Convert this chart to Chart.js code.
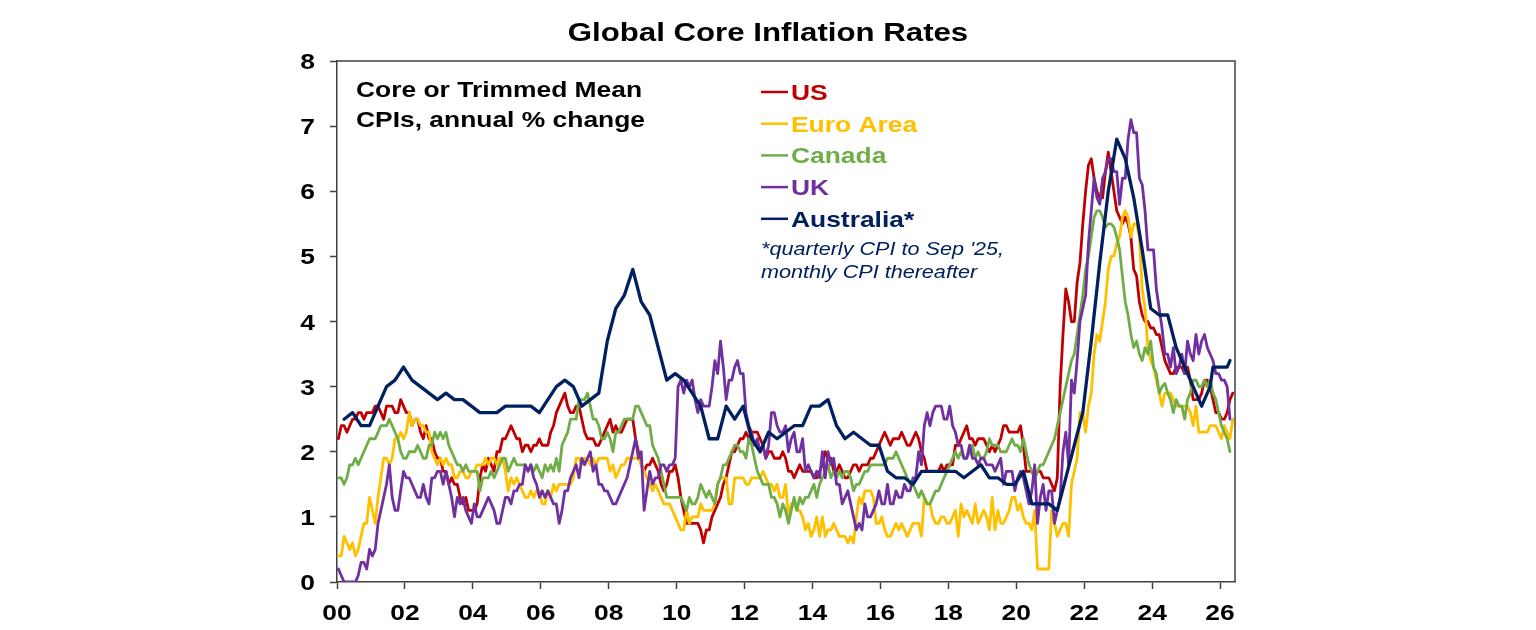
<!DOCTYPE html>
<html>
<head>
<meta charset="utf-8">
<title>Global Core Inflation Rates</title>
<script src="https://cdn.jsdelivr.net/npm/chart.js@4.4.1/dist/chart.umd.min.js"></script>
<style>
  html, body { margin: 0; padding: 0; background: #fff; }
  #wrap { width: 1536px; height: 630px; }
</style>
</head>
<body>
<div id="wrap"><canvas id="chart" width="1536" height="630"></canvas></div>
<script>
'use strict';

// ---- data (annual % change), monthly series start Jan 2000 ----
var xTickLabels = ['00', '02', '04', '06', '08', '10', '12', '14', '16', '18', '20', '22', '24', '26'];
var yTickLabels = ['0', '1', '2', '3', '4', '5', '6', '7', '8'];

var usCore = [
    2.2, 2.4, 2.4, 2.3, 2.4, 2.5, 2.5, 2.6, 2.6, 2.5, 2.6, 2.6,
    2.6, 2.7, 2.7, 2.6, 2.5, 2.7, 2.7, 2.7, 2.6, 2.6, 2.8, 2.7,
    2.6, 2.6, 2.4, 2.5, 2.5, 2.3, 2.2, 2.4, 2.2, 2.2, 2.0, 1.9,
    1.9, 1.7, 1.7, 1.5, 1.6, 1.5, 1.5, 1.3, 1.2, 1.3, 1.1, 1.1,
    1.1, 1.2, 1.6, 1.8, 1.7, 1.9, 1.8, 1.7, 2.0, 2.0, 2.2, 2.2,
    2.3, 2.4, 2.3, 2.2, 2.2, 2.0, 2.1, 2.1, 2.0, 2.1, 2.1, 2.2,
    2.1, 2.1, 2.1, 2.3, 2.4, 2.6, 2.7, 2.8, 2.9, 2.7, 2.6, 2.6,
    2.7, 2.7, 2.5, 2.3, 2.2, 2.2, 2.2, 2.1, 2.1, 2.2, 2.3, 2.4,
    2.5, 2.3, 2.4, 2.3, 2.3, 2.4, 2.5, 2.5, 2.5, 2.2, 2.0, 1.8,
    1.7, 1.8, 1.8, 1.9, 1.8, 1.7, 1.5, 1.4, 1.5, 1.7, 1.7, 1.8,
    1.6, 1.3, 1.1, 0.9, 0.9, 0.9, 0.9, 0.9, 0.8, 0.6, 0.8, 0.8,
    1.0, 1.1, 1.2, 1.3, 1.5, 1.6, 1.8, 2.0, 2.0, 2.1, 2.2, 2.2,
    2.3, 2.2, 2.3, 2.3, 2.3, 2.2, 2.1, 1.9, 2.0, 2.0, 1.9, 1.9,
    1.9, 2.0, 1.9, 1.7, 1.7, 1.6, 1.7, 1.8, 1.7, 1.7, 1.7, 1.7,
    1.6, 1.6, 1.7, 1.8, 2.0, 1.9, 1.9, 1.7, 1.7, 1.8, 1.7, 1.6,
    1.6, 1.7, 1.8, 1.8, 1.7, 1.8, 1.8, 1.8, 1.9, 1.9, 2.0, 2.1,
    2.2, 2.3, 2.2, 2.1, 2.2, 2.2, 2.2, 2.3, 2.2, 2.1, 2.1, 2.2,
    2.3, 2.2, 2.0, 1.9, 1.7, 1.7, 1.7, 1.7, 1.7, 1.8, 1.7, 1.8,
    1.8, 1.8, 2.1, 2.1, 2.2, 2.3, 2.4, 2.2, 2.2, 2.1, 2.2, 2.2,
    2.2, 2.1, 2.0, 2.1, 2.0, 2.1, 2.2, 2.4, 2.4, 2.3, 2.3, 2.3,
    2.3, 2.4, 2.1, 1.7, 1.7, 1.7, 1.6, 1.7, 1.7, 1.6, 1.6, 1.6,
    1.5, 1.4, 1.6, 3.0, 3.8, 4.5, 4.3, 4.0, 4.0, 4.6, 4.9, 5.5,
    6.0, 6.4, 6.5, 6.2, 6.0, 5.9, 5.9, 6.3, 6.6, 6.3, 6.0, 5.7,
    5.6, 5.5, 5.6, 5.5, 5.3, 4.8, 4.7, 4.3, 4.1, 4.0, 4.0, 3.9,
    3.9, 3.8, 3.8, 3.6, 3.4, 3.3, 3.2, 3.2, 3.3, 3.3, 3.3, 3.2,
    3.3, 3.1, 2.8, 2.8, 2.8, 2.9, 3.1, 3.1, 3.0, 2.8, 2.6, 2.6,
    2.5, 2.5, 2.6, 2.8, 2.9
];

var euroCore = [
    0.4, 0.4, 0.7, 0.6, 0.5, 0.6, 0.4, 0.5, 0.7, 0.9, 0.9, 1.3,
    1.1, 0.9, 1.3, 1.6, 1.9, 1.9, 1.8, 1.9, 2.2, 2.2, 2.3, 2.2,
    2.3, 2.6, 2.4, 2.5, 2.5, 2.4, 2.4, 2.3, 2.3, 2.0, 1.9, 1.8,
    1.9, 1.8, 1.9, 1.8, 1.8, 1.6, 1.6, 1.7, 1.7, 1.6, 1.6, 1.7,
    1.7, 1.8, 1.8, 1.8, 1.9, 1.8, 1.9, 1.9, 1.8, 1.9, 1.9, 1.7,
    1.4, 1.6, 1.5, 1.6, 1.5, 1.4, 1.3, 1.3, 1.4, 1.3, 1.4, 1.4,
    1.2, 1.2, 1.4, 1.3, 1.5, 1.4, 1.5, 1.5, 1.5, 1.5, 1.5, 1.6,
    1.9, 1.9, 1.8, 1.9, 1.9, 1.8, 1.9, 1.8, 1.9, 1.9, 1.9, 1.9,
    1.7, 1.8, 1.6, 1.7, 1.8, 1.8, 1.9, 1.9, 1.9, 1.9, 1.9, 1.8,
    1.7, 1.6, 1.5, 1.4, 1.5, 1.4, 1.3, 1.2, 1.2, 1.2, 1.1, 1.0,
    0.9, 0.8, 0.8, 1.1, 0.9, 1.0, 1.0, 1.0, 1.2, 1.1, 1.1, 1.1,
    1.1, 1.2, 1.5, 1.6, 1.6, 1.6, 1.2, 1.2, 1.6, 1.6, 1.6, 1.6,
    1.5, 1.5, 1.6, 1.6, 1.6, 1.6, 1.7, 1.6, 1.5, 1.5, 1.4, 1.5,
    1.3, 1.3, 1.5, 1.0, 1.2, 1.2, 1.1, 1.1, 1.0, 0.8, 0.9, 0.7,
    0.8, 1.0, 0.7, 1.0, 0.7, 0.8, 0.8, 0.9, 0.8, 0.7, 0.7, 0.7,
    0.6, 0.7, 0.6, 1.0, 1.3, 1.2, 1.4, 1.4, 1.4, 1.3, 0.9, 0.9,
    1.0, 0.8, 0.7, 0.7, 0.8, 0.9, 0.8, 0.9, 0.8, 0.7, 0.8, 0.9,
    0.9, 0.9, 0.7, 1.3, 1.2, 1.2, 1.0, 0.9, 0.9, 1.0, 1.0, 0.9,
    0.9, 1.0, 1.1, 0.7, 1.2, 1.0, 1.1, 1.0, 0.9, 1.2, 0.9, 1.0,
    1.1, 1.0, 0.8, 1.3, 0.8, 1.1, 0.9, 0.9, 1.0, 1.1, 1.3, 1.3,
    1.1, 1.2, 1.0, 0.9, 0.9, 0.8, 1.1, 0.2, 0.2, 0.2, 0.2, 0.2,
    1.1, 0.9, 0.7, 0.8, 0.9, 0.9, 0.7, 1.5, 1.7, 1.9, 2.6, 2.6,
    2.3, 2.7, 2.9, 3.5, 3.8, 3.7, 4.0, 4.3, 4.8, 5.0, 5.0, 5.2,
    5.3, 5.6, 5.7, 5.6, 5.3, 5.5, 5.5, 5.3, 4.5, 4.2, 3.6, 3.4,
    3.3, 3.1, 2.9, 2.7, 2.9, 2.9, 2.9, 2.8, 2.7, 2.7, 2.7, 2.7,
    2.7, 2.6, 2.4, 2.7, 2.3, 2.3, 2.3, 2.3, 2.4, 2.4, 2.4, 2.3,
    2.2, 2.4, 2.3, 2.2, 2.5
];

var canadaCore = [
    1.6, 1.6, 1.5, 1.6, 1.8, 1.8, 1.9, 1.8, 1.9, 2.0, 2.1, 2.2,
    2.2, 2.2, 2.3, 2.4, 2.4, 2.4, 2.5, 2.4, 2.3, 2.2, 2.0, 1.9,
    1.9, 2.0, 2.0, 2.0, 2.1, 2.0, 1.9, 1.9, 2.1, 2.1, 2.3, 2.2,
    2.3, 2.2, 2.3, 2.1, 2.0, 1.9, 1.8, 1.8, 1.7, 1.8, 1.7, 1.7,
    1.7, 1.7, 1.4, 1.6, 1.6, 1.6, 1.7, 1.6, 1.7, 1.8, 1.9, 1.9,
    1.7, 1.8, 1.9, 1.8, 1.8, 1.8, 1.8, 1.7, 1.8, 1.7, 1.8, 1.7,
    1.6, 1.8, 1.7, 1.8, 1.7, 1.9, 1.7, 2.1, 2.2, 2.3, 2.5, 2.5,
    2.5, 2.8, 2.8, 2.8, 2.9, 2.7, 2.5, 2.5, 2.4, 2.2, 2.2, 2.3,
    2.2, 2.0, 2.3, 2.3, 2.4, 2.5, 2.5, 2.5, 2.5, 2.7, 2.7, 2.6,
    2.5, 2.4, 2.4, 2.1, 2.0, 1.9, 1.7, 1.5, 1.3, 1.3, 1.3, 1.3,
    1.3, 1.3, 1.2, 1.1, 1.3, 1.2, 1.2, 1.3, 1.5, 1.4, 1.3, 1.4,
    1.3, 1.2, 1.5, 1.6, 1.8, 1.8, 1.9, 2.0, 2.1, 2.1, 2.0, 2.0,
    1.9, 2.2, 2.1, 1.9, 1.7, 1.6, 1.5, 1.5, 1.5, 1.3, 1.3, 1.2,
    1.0, 1.2, 1.1, 0.9, 1.1, 1.3, 1.1, 1.3, 1.2, 1.3, 1.3, 1.4,
    1.5, 1.3, 1.5, 1.6, 1.7, 1.8, 1.6, 1.7, 1.6, 1.7, 1.6, 1.7,
    1.7, 1.6, 1.4, 1.5, 1.5, 1.6, 1.7, 1.7, 1.8, 1.8, 1.8, 1.8,
    1.8, 1.8, 1.9, 1.9, 1.9, 2.0, 1.9, 1.8, 1.7, 1.6, 1.5, 1.5,
    1.4, 1.3, 1.4, 1.3, 1.2, 1.2, 1.3, 1.4, 1.4, 1.5, 1.6, 1.7,
    1.8, 1.9, 2.0, 1.9, 2.0, 1.9, 1.9, 2.0, 2.1, 1.9, 2.0, 1.9,
    1.9, 2.0, 2.2, 2.1, 2.1, 2.1, 2.0, 2.0, 2.0, 2.1, 2.2, 2.1,
    2.1, 2.0, 2.2, 2.0, 1.8, 1.7, 1.6, 1.7, 1.8, 1.8, 1.9, 2.0,
    2.1, 2.2, 2.4, 2.6, 2.8, 3.0, 3.2, 3.4, 3.5, 3.8, 4.1, 4.4,
    4.8, 5.0, 5.3, 5.6, 5.7, 5.7, 5.6, 5.45, 5.5, 5.5, 5.45, 5.3,
    5.1, 4.7, 4.3, 4.1, 3.8, 3.6, 3.7, 3.5, 3.4, 3.6, 3.5, 3.7,
    3.3, 3.2, 2.9, 3.0, 3.05, 2.9, 2.8, 2.6, 2.8, 2.7, 2.7, 2.5,
    2.8, 2.9, 3.1, 3.1, 3.0, 3.0, 3.1, 3.0, 3.1, 2.9, 2.8, 2.6,
    2.4, 2.3, 2.2, 2.0
];

var ukCore = [
    0.2, 0.1, 0.0, 0.0, 0.0, 0.0, 0.0, 0.1, 0.3, 0.3, 0.2, 0.5,
    0.4, 0.5, 0.9, 1.1, 1.3, 1.5, 1.8, 1.3, 1.1, 1.1, 1.4, 1.7,
    1.6, 1.6, 1.5, 1.4, 1.3, 1.3, 1.5, 1.3, 1.2, 1.6, 1.6, 1.7,
    1.7, 1.5, 1.7, 1.5, 1.3, 1.0, 1.3, 1.2, 1.3, 1.1, 1.0, 0.9,
    1.2, 1.0, 1.0, 1.1, 1.2, 1.3, 1.2, 1.1, 0.9, 0.9, 1.1, 1.3,
    1.3, 1.2, 1.4, 1.4, 1.5, 1.5, 1.8, 1.7, 1.8, 1.6, 1.5, 1.3,
    1.4, 1.3, 1.4, 1.3, 1.2, 1.2, 0.9, 1.1, 1.4, 1.4, 1.6, 1.7,
    1.8, 1.6, 1.9, 1.8, 1.9, 2.0, 1.7, 1.8, 1.5, 1.5, 1.4, 1.4,
    1.3, 1.2, 1.2, 1.3, 1.4, 1.5, 1.6, 1.8, 2.0, 2.2, 1.9, 2.0,
    1.1, 1.4, 1.7, 1.5, 1.6, 1.6, 1.8, 1.8, 1.7, 1.8, 1.8, 1.9,
    3.0, 3.1, 2.9, 3.1, 3.0, 3.1, 2.8, 2.6, 2.8, 2.7, 2.7, 2.7,
    3.0, 3.4, 3.2, 3.7, 3.3, 2.8, 3.1, 3.1, 3.3, 3.4, 3.2, 3.2,
    2.6, 2.4, 2.3, 2.1, 2.2, 2.0, 2.1, 1.9, 2.1, 2.6, 2.6, 2.4,
    2.3, 2.3, 2.4, 2.0, 2.2, 2.3, 2.0, 2.0, 2.2, 1.7, 1.8, 1.7,
    1.6, 1.7, 1.6, 2.0, 1.6, 2.0, 1.8, 1.9, 1.5, 1.5, 1.2, 1.3,
    1.4, 1.2, 1.0, 0.8, 0.9, 0.8, 1.2, 1.0, 1.0, 1.1, 1.2, 1.4,
    1.2, 1.2, 1.5, 1.2, 1.2, 1.4, 1.3, 1.3, 1.5, 1.4, 1.4, 1.6,
    1.6, 2.0, 1.8, 2.4, 2.6, 2.4, 2.6, 2.7, 2.7, 2.7, 2.5, 2.5,
    2.7, 2.4, 2.3, 2.1, 2.1, 1.9, 1.9, 2.1, 1.9, 1.9, 1.8, 1.9,
    1.9, 1.8, 1.8, 1.8, 1.7, 1.8, 1.9, 1.5, 1.7, 1.7, 1.7, 1.4,
    1.6, 1.7, 1.6, 1.4, 1.2, 1.4, 1.8, 0.9, 1.3, 1.5, 1.1, 1.4,
    1.4, 0.9, 1.1, 1.3, 2.0, 2.3, 1.8, 3.1, 2.9, 3.4, 4.0, 4.2,
    4.4, 5.2, 5.7, 6.2, 5.9, 5.8, 6.2, 6.3, 6.5, 6.5, 6.3, 6.3,
    5.8, 6.2, 6.2, 6.8, 7.1, 6.9, 6.9, 6.2, 6.1, 5.7, 5.1, 5.1,
    5.1, 4.5, 4.2, 3.9, 3.5, 3.5, 3.3, 3.6, 3.2, 3.3, 3.5, 3.2,
    3.7, 3.5, 3.4, 3.8, 3.5, 3.7, 3.8, 3.6, 3.5, 3.4, 3.2, 3.2,
    3.1, 3.1, 3.0, 2.5
];

// Australia: quarterly (Mar, Jun, Sep, Dec) from Mar 2000 to Sep 2025
var ausQuarterly = [
    2.5, 2.6, 2.4, 2.4,
    2.7, 3.0, 3.1, 3.3,
    3.1, 3.0, 2.9, 2.8,
    2.9, 2.8, 2.8, 2.7,
    2.6, 2.6, 2.6, 2.7,
    2.7, 2.7, 2.7, 2.6,
    2.8, 3.0, 3.1, 3.0,
    2.7, 2.8, 2.9, 3.7,
    4.2, 4.4, 4.8, 4.3,
    4.1, 3.6, 3.1, 3.2,
    3.1, 2.9, 2.7, 2.2,
    2.2, 2.7, 2.5, 2.7,
    2.2, 2.0, 2.3, 2.2,
    2.3, 2.4, 2.4, 2.7,
    2.7, 2.8, 2.4, 2.2,
    2.3, 2.2, 2.1, 2.1,
    1.7, 1.6, 1.6, 1.5,
    1.7, 1.7, 1.7, 1.7,
    1.7, 1.6, 1.7, 1.8,
    1.6, 1.6, 1.5, 1.5,
    1.7, 1.2, 1.2, 1.2,
    1.1, 1.6, 2.1, 2.6,
    3.7, 4.9, 6.0, 6.8,
    6.5, 5.9, 5.1, 4.2,
    4.1, 4.1, 3.6, 3.3,
    3.0, 2.7, 3.0
];
// Australia: monthly from Oct 2025
var ausMonthly = [3.3, 3.3, 3.3, 3.3, 3.3, 3.3, 3.4];
var ausMonthlyStart = 309; // months after Jan 2000

var seriesNames = ['US', 'Euro Area', 'Canada', 'UK', 'Australia*'];
var seriesColors = ['#C00000', '#FFC000', '#70AD47', '#7030A0', '#002060'];

var STRETCH = 1.2;
var FONT = '"Liberation Sans", Arial, Helvetica, sans-serif';
var AXIS_COLOR = '#404040';

function monthlyPoints(values, start) {
    return values.map(function (v, i) {
        return { x: (start + i + 0.5) / 12, y: v };
    });
}

function quarterlyPoints(values) {
    return values.map(function (v, q) {
        return { x: (q * 3 + 2.5) / 12, y: v };
    });
}

// text drawn a bit wider than the font, like the original picture
function drawText(ctx, text, x, y, font, color, align) {
    ctx.save();
    ctx.font = font;
    ctx.fillStyle = color;
    ctx.textBaseline = 'alphabetic';
    ctx.textAlign = 'left';
    var w = ctx.measureText(text).width * STRETCH;
    var left = x;
    if (align === 'center') left = x - w / 2;
    if (align === 'right') left = x - w;
    ctx.translate(left, y);
    ctx.scale(STRETCH, 1);
    ctx.fillText(text, 0, 0);
    ctx.restore();
}

var overlayPlugin = {
    id: 'overlay',
    afterDraw: function (chart) {
        var ctx = chart.ctx;
        var area = chart.chartArea;
        var xs = chart.scales.x;
        var ys = chart.scales.y;

        // top and right frame lines
        ctx.save();
        ctx.strokeStyle = AXIS_COLOR;
        ctx.lineWidth = 1.5;
        ctx.beginPath();
        ctx.moveTo(area.left, area.top);
        ctx.lineTo(area.right, area.top);
        ctx.lineTo(area.right, area.bottom);
        ctx.stroke();
        ctx.restore();

        // tick labels
        var tickFont = 'bold 22px ' + FONT;
        ys.ticks.forEach(function (t) {
            drawText(ctx, yTickLabels[t.value], 315, ys.getPixelForValue(t.value) + 8, tickFont, '#000', 'right');
        });
        xs.ticks.forEach(function (t) {
            var label = xTickLabels[Math.round(t.value / 2)];
            if (label) drawText(ctx, label, xs.getPixelForValue(t.value), 620, tickFont, '#000', 'center');
        });

        // title
        drawText(ctx, 'Global Core Inflation Rates', 768, 41, 'bold 26px ' + FONT, '#000', 'center');

        // note top left
        drawText(ctx, 'Core or Trimmed Mean', 356, 97, 'bold 22px ' + FONT, '#000', 'left');
        drawText(ctx, 'CPIs, annual % change', 356, 127, 'bold 22px ' + FONT, '#000', 'left');

        // legend
        var lx = 761, ly = 100, step = 31.7;
        seriesNames.forEach(function (name, i) {
            var y = ly + i * step;
            ctx.save();
            ctx.strokeStyle = seriesColors[i];
            ctx.lineWidth = 2.5;
            ctx.beginPath();
            ctx.moveTo(lx, y - 8);
            ctx.lineTo(lx + 27, y - 8);
            ctx.stroke();
            ctx.restore();
            drawText(ctx, name, lx + 30, y, 'bold 22px ' + FONT, seriesColors[i], 'left');
        });
        drawText(ctx, "*quarterly CPI to Sep '25,", 761, 255, 'italic 18px ' + FONT, '#002060', 'left');
        drawText(ctx, 'monthly CPI thereafter', 761, 278, 'italic 18px ' + FONT, '#002060', 'left');
    }
};

function lineSet(label, data, color, width, order) {
    return {
        label: label,
        data: data,
        borderColor: color,
        backgroundColor: color,
        borderWidth: width,
        pointRadius: 0,
        tension: 0,
        borderJoinStyle: 'round',
        borderCapStyle: 'round',
        order: order
    };
}

var ausData = quarterlyPoints(ausQuarterly).concat(monthlyPoints(ausMonthly, ausMonthlyStart));

var ctx = document.getElementById('chart').getContext('2d');
var chart = new Chart(ctx, {
    type: 'line',
    data: {
        datasets: [
            lineSet(seriesNames[0], monthlyPoints(usCore, 0), seriesColors[0], 2.8, 4),
            lineSet(seriesNames[1], monthlyPoints(euroCore, 0), seriesColors[1], 2.8, 3),
            lineSet(seriesNames[2], monthlyPoints(canadaCore, 0), seriesColors[2], 2.8, 2),
            lineSet(seriesNames[3], monthlyPoints(ukCore, 0), seriesColors[3], 2.8, 1),
            lineSet(seriesNames[4], ausData, seriesColors[4], 3.3, 0)
        ]
    },
    options: {
        responsive: false,
        animation: false,
        devicePixelRatio: 1,
        layout: { padding: { top: 61, right: 301, bottom: 0, left: 0 } },
        plugins: {
            legend: { display: false },
            title: { display: false },
            tooltip: { enabled: false }
        },
        scales: {
            x: {
                type: 'linear',
                min: 0,
                max: 26.44,
                ticks: { display: false, stepSize: 2, includeBounds: false },
                grid: { drawOnChartArea: false, drawTicks: true, tickLength: 7, tickColor: AXIS_COLOR, tickWidth: 1.5 },
                border: { display: true, color: AXIS_COLOR, width: 1.5 },
                afterFit: function (scale) { scale.height = 48; }
            },
            y: {
                type: 'linear',
                min: 0,
                max: 8,
                ticks: { display: false, stepSize: 1 },
                grid: { drawOnChartArea: false, drawTicks: true, tickLength: 7, tickColor: AXIS_COLOR, tickWidth: 1.5 },
                border: { display: true, color: AXIS_COLOR, width: 1.5 },
                afterFit: function (scale) { scale.width = 337; }
            }
        }
    },
    plugins: [overlayPlugin]
});
</script>
</body>
</html>
